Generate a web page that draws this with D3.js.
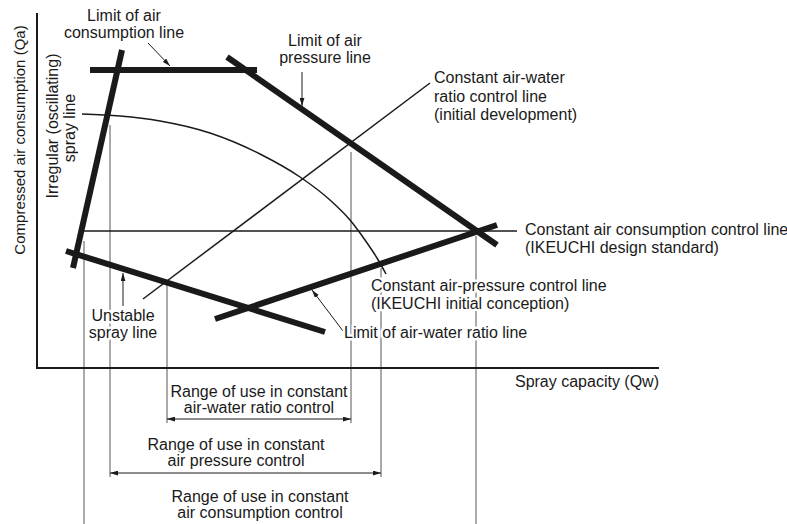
<!DOCTYPE html>
<html>
<head>
<meta charset="utf-8">
<script src="https://cdn.jsdelivr.net/npm/d3@7"></script>
<style>
body { margin: 0; background: #fff; }
text { font-family: "Liberation Sans", Arial, sans-serif; font-size: 16px; fill: #1a1a1a; }
</style>
</head>
<body>
<div id="chart"></div>
<script>
// Unidades del diagrama (Qw en x, Qa en y)
// Lineas gruesas: limites
var limitAirConsumption = [[53, 298], [220, 298]];
var irregularSpray = [[85, 318], [36, 100]];
var limitAirPressure = [[190, 311], [460, 123]];
var unstableSpray = [[29, 117], [288, 36]];
var limitAirWater = [[178, 49], [460, 143]];

// Lineas finas: control
var constAirConsumption = [[46, 137], [480, 137]];
var constAirWater = [[106, 69], [393, 285]];
var constAirPressure = [[45, 254], [83, 252], [123, 247], [173, 235], [223, 214],
    [263, 191], [293, 168], [313, 148], [328, 128], [340, 110], [349, 94]];

// Verticales de rango: [x, yArriba, yAbajo]
var rangeVerticals = [[47, 127, -170], [73, 243, -109], [130, 85, -55],
    [314, 216, -55], [344, 100, -109], [439, 132, -170]];

// Flechas de rango: [x1, x2, y]
var rangeArrows = [[130, 314, -51], [73, 344, -105], [47, 439, -158]];

// Flechas de las etiquetas: [x1, y1, x2, y2]
var leaders = [[111, 325, 133, 302], [265, 296, 265, 262], [86, 62, 86, 95], [306, 37, 275, 78]];

var rangeLabels = [
    ["Range of use in constant", "air-water ratio control"],
    ["Range of use in constant", "air pressure control"],
    ["Range of use in constant", "air consumption control"]
];

var width = 787;
var height = 524;

var svg = d3.select("#chart")
    .append("svg")
    .attr("width", width)
    .attr("height", height);

var x = d3.scaleLinear().domain([0, 622]).range([37, 659]);
var y = d3.scaleLinear().domain([0, 355]).range([368, 13]);

var line = d3.line()
    .x((d) => { return x(d[0]) })
    .y((d) => { return y(d[1]) });

var defs = svg.append("defs");
defs.append("marker")
    .attr("id", "head")
    .attr("viewBox", "0 0 10 6")
    .attr("refX", 10)
    .attr("refY", 3)
    .attr("markerUnits", "userSpaceOnUse")
    .attr("markerWidth", 8)
    .attr("markerHeight", 5)
    .attr("orient", "auto-start-reverse")
    .append("path")
    .attr("d", "M0,0L10,3L0,6Z")
    .attr("fill", "#1a1a1a");

// verticales grises
svg.selectAll(".vert")
    .data(rangeVerticals)
    .enter()
    .append("line")
    .attr("class", "vert")
    .attr("x1", (d) => { return x(d[0]) })
    .attr("x2", (d) => { return x(d[0]) })
    .attr("y1", (d) => { return y(d[1]) })
    .attr("y2", (d) => { return y(d[2]) })
    .attr("stroke", "#555")
    .attr("stroke-width", 1);

svg.selectAll(".range")
    .data(rangeArrows)
    .enter()
    .append("line")
    .attr("class", "range")
    .attr("x1", (d) => { return x(d[0]) })
    .attr("x2", (d) => { return x(d[1]) })
    .attr("y1", (d) => { return y(d[2]) })
    .attr("y2", (d) => { return y(d[2]) })
    .attr("stroke", "#1a1a1a")
    .attr("stroke-width", 1)
    .attr("marker-start", "url(#head)")
    .attr("marker-end", "url(#head)");

// ejes
svg.append("line")
    .attr("x1", x(0)).attr("x2", x(0))
    .attr("y1", y(0) + 1).attr("y2", y(355))
    .attr("stroke", "#1a1a1a").attr("stroke-width", 2);
svg.append("line")
    .attr("x1", x(0)).attr("x2", x(622))
    .attr("y1", y(0)).attr("y2", y(0))
    .attr("stroke", "#1a1a1a").attr("stroke-width", 2);

// lineas finas
[constAirConsumption, constAirWater].forEach((d) => {
    svg.append("path")
        .attr("d", line(d))
        .attr("fill", "none")
        .attr("stroke", "#1a1a1a")
        .attr("stroke-width", 1.5);
});
svg.append("path")
    .attr("d", line.curve(d3.curveMonotoneX)(constAirPressure))
    .attr("fill", "none")
    .attr("stroke", "#1a1a1a")
    .attr("stroke-width", 1.5);
line.curve(d3.curveLinear);

// lineas gruesas
[limitAirConsumption, irregularSpray, limitAirPressure, unstableSpray, limitAirWater].forEach((d) => {
    svg.append("path")
        .attr("d", line(d))
        .attr("fill", "none")
        .attr("stroke", "#1a1a1a")
        .attr("stroke-width", 6);
});

// flechas de etiqueta
svg.selectAll(".leader")
    .data(leaders)
    .enter()
    .append("line")
    .attr("class", "leader")
    .attr("x1", (d) => { return x(d[0]) })
    .attr("y1", (d) => { return y(d[1]) })
    .attr("x2", (d) => { return x(d[2]) })
    .attr("y2", (d) => { return y(d[3]) })
    .attr("stroke", "#1a1a1a")
    .attr("stroke-width", 1)
    .attr("marker-end", "url(#head)");

// textos con halo blanco
function label(lines, px, py, anchor, step, rot) {
    var t = svg.append("text")
        .attr("text-anchor", anchor)
        .attr("stroke", "#fff")
        .attr("stroke-width", 5)
        .attr("stroke-linejoin", "round")
        .attr("paint-order", "stroke");
    if (rot) {
        t.attr("transform", "translate(" + px + "," + py + ") rotate(-90)");
        px = 0; py = 0;
    }
    lines.forEach((s, i) => {
        t.append("tspan").attr("x", px).attr("y", py + i * step).text(s);
    });
    return t;
}

label(["Limit of air", "consumption line"], 124, 21, "middle", 17);
label(["Limit of air", "pressure line"], 325, 46, "middle", 17);
label(["Constant air-water", "ratio control line", "(initial development)"], 434, 83, "start", 18.5);
label(["Constant air consumption control line", "(IKEUCHI design standard)"], 525, 235, "start", 18);
label(["Constant air-pressure control line", "(IKEUCHI initial conception)"], 371, 291, "start", 18);
label(["Limit of air-water ratio line"], 344, 338, "start", 17);
label(["Unstable", "spray line"], 123, 321, "middle", 17);
label(["Spray capacity (Qw)"], x(622), 387, "end", 17);
label(["Compressed air consumption (Qa)"], 25, 140, "middle", 17, true).style("font-size", "15px");
label(["Irregular (oscillating)"], 58, 126, "middle", 17, true);
label(["spray line"], 75, 128, "middle", 17, true);

label(rangeLabels[0], 259, 397, "middle", 16);
label(rangeLabels[1], 236, 450, "middle", 16);
label(rangeLabels[2], 260, 502, "middle", 16);
</script>
</body>
</html>
